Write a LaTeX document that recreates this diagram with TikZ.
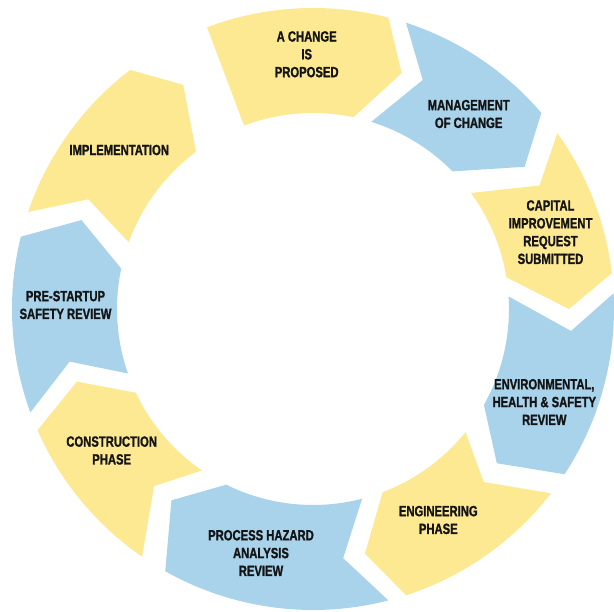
\documentclass[tikz,border=0pt]{standalone}
\usepackage{fontspec}
\newfontfamily\lblfont[FakeStretch=0.76, BoldFeatures={FakeBold=1.2}]{Liberation Sans}
\definecolor{segyel}{HTML}{FEE993}
\definecolor{segblu}{HTML}{A8D3EB}
\definecolor{lbltxt}{HTML}{141414}
\tikzset{lbl/.style={align=center, inner sep=0pt, text=lbltxt,
  font=\lblfont\bfseries\fontsize{14.8}{17.8}\selectfont}}
% #1 colour, #2 trailing outer angle, #3 trailing inner angle,
% #4 leading inner angle, #5 leading outer angle, #6/#7 tip angle/radius,
% #8/#9 notch angle/radius
\newcommand{\cyclesegment}[9]{%
  \fill[#1] (#2:301pt) -- (#8:#9pt) -- (#3:196pt)
    arc[start angle=#3, end angle=#4, radius=196pt]
    -- (#6:#7pt) -- (#5:301pt)
    arc[start angle=#5, end angle=#2, radius=301pt] -- cycle;}
\begin{document}
\begin{tikzpicture}[x=1pt,y=1pt]
\useasboundingbox (0,0) rectangle (614,612);
\fill[white] (0,0) rectangle (614,612);
\begin{scope}[shift={(313,303)}]
  \cyclesegment{segyel}{110.6}{110.6}{78.1}{75.5}{69.4}{252}{110.6}{248.5}
  \cyclesegment{segblu}{72.0}{72.7}{44.6}{40.65}{33.9}{255}{64.4}{254}
  \cyclesegment{segyel}{35.75}{36.3}{9.3}{6.84}{0.0}{256}{28.6}{258}
  \cyclesegment{segblu}{3.0}{3.67}{-29.3}{-33.3}{-40.0}{240}{-4.87}{259}
  \cyclesegment{segyel}{-37.75}{-38.9}{-69.2}{-72.0}{-78.0}{250}{-45.4}{243}
  \cyclesegment{segblu}{-75.5}{-75.5}{-116.3}{-119.4}{-126.5}{238}{-83.1}{251}
  \cyclesegment{segyel}{-124.6}{-124.55}{-154.7}{-156.25}{-162.9}{247}{-131.9}{238}
  \cyclesegment{segblu}{-159.9}{-160.8}{-191.9}{-193.9}{-201.0}{248}{-167.8}{249}
  \cyclesegment{segyel}{161.2}{160.1}{126.65}{127.4}{120.07}{259}{153.97}{250}
\end{scope}
\node[lbl] (chg) at (306.7,557.7) {A CHANGE\\IS\\PROPOSED};
\node[lbl] (moc) at (468.7,498) {MANAGEMENT\\OF CHANGE};
\node[lbl] (cap) at (550.5,379.8) {CAPITAL\\IMPROVEMENT\\REQUEST\\SUBMITTED};
\node[lbl] (env) at (544.3,210) {ENVIRONMENTAL,\\HEALTH \& SAFETY\\REVIEW};
\node[lbl] (eng) at (438.3,92) {ENGINEERING\\PHASE};
\node[lbl] (pha) at (261,59) {PROCESS HAZARD\\ANALYSIS\\REVIEW};
\node[lbl] (con) at (111.7,161.5) {CONSTRUCTION\\PHASE};
\node[lbl] (pss) at (65.5,307) {PRE-STARTUP\\SAFETY REVIEW};
\node[lbl] (imp) at (119.2,462) {IMPLEMENTATION};
\end{tikzpicture}
\end{document}
